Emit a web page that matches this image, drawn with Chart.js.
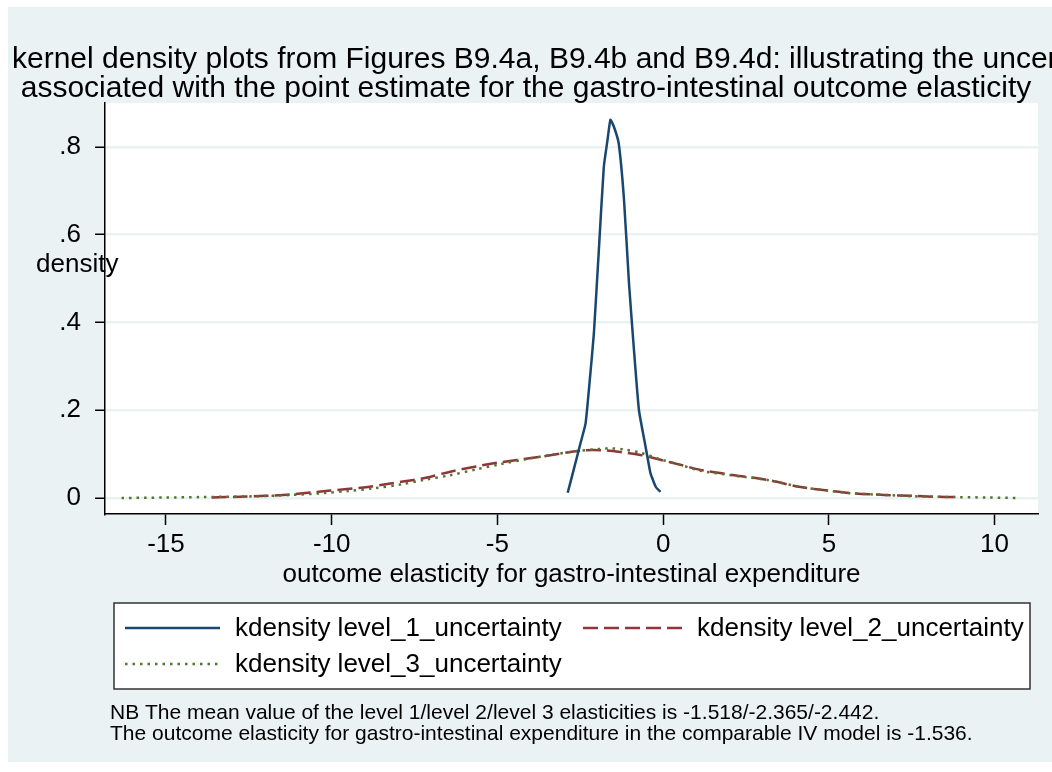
<!DOCTYPE html>
<html>
<head>
<meta charset="utf-8">
<script src="https://cdn.jsdelivr.net/npm/chart.js@4.4.1/dist/chart.umd.min.js"></script>
<style>
  html, body { margin: 0; padding: 0; background: #fff; }
  #wrap { width: 1052px; height: 772px; }
</style>
</head>
<body>
<div id="wrap"><canvas id="kd" width="1052" height="772"></canvas></div>
<script>
// kernel density estimates
const level1X = [-2.88, -2.7, -2.5, -2.34, -2.2, -2.09, -1.94, -1.79, -1.68, -1.59, -1.48, -1.34, -1.18, -1.03, -0.88, -0.73, -0.53, -0.38, -0.22, -0.08];
const level1Y = [0.012, 0.064, 0.123, 0.17, 0.28, 0.375, 0.565, 0.755, 0.815, 0.862, 0.845, 0.808, 0.679, 0.489, 0.337, 0.2, 0.117, 0.056, 0.025, 0.014];

const level2X = [-13.62, -12.76, -12.0, -11.25, -10.04, -9.04, -8.23, -7.23, -6.42, -5.11, -3.70, -2.49, -1.89, -1.3, -0.68, -0.08, 0.5, 1.13, 2.14, 3.15, 4.15, 4.96, 5.66, 6.67, 7.5, 8.17, 8.89];
const level2Y = [0.001, 0.003, 0.005, 0.008, 0.017, 0.024, 0.033, 0.045, 0.060, 0.079, 0.094, 0.108, 0.109, 0.105, 0.098, 0.087, 0.076, 0.064, 0.052, 0.041, 0.025, 0.017, 0.011, 0.007, 0.005, 0.003, 0.002];

const level3X = [-16.34, -15.0, -13.97, -12.26, -11.2, -10.25, -9.5, -8.74, -7.9, -7.23, -6.42, -5.6, -4.91, -4.1, -3.40, -2.6, -1.89, -1.6, -1.2, -0.68, -0.08, 0.5, 1.13, 2.14, 3.15, 4.15, 4.96, 5.66, 6.67, 7.5, 8.17, 8.89, 9.8, 10.74];
const level3Y = [0.000, 0.001, 0.002, 0.004, 0.007, 0.011, 0.016, 0.022, 0.031, 0.041, 0.052, 0.066, 0.077, 0.089, 0.098, 0.107, 0.112, 0.113, 0.111, 0.103, 0.088, 0.076, 0.062, 0.051, 0.041, 0.025, 0.017, 0.011, 0.007, 0.004, 0.003, 0.002, 0.001, 0.000];

const xTicks = [-15, -10, -5, 0, 5, 10];
const yTicks = [0, 0.2, 0.4, 0.6, 0.8];

const seriesLabels = ['kdensity level_1_uncertainty', 'kdensity level_2_uncertainty', 'kdensity level_3_uncertainty'];
const titleLines = [
    'kernel density plots from Figures B9.4a, B9.4b and B9.4d: illustrating the uncertainty',
    'associated with the point estimate for the gastro-intestinal outcome elasticity',
];
const xTitle = 'outcome elasticity for gastro-intestinal expenditure';
const yTitle = 'density';
const noteLines = [
    'NB The mean value of the level 1/level 2/level 3 elasticities is -1.518/-2.365/-2.442.',
    'The outcome elasticity for gastro-intestinal expenditure in the comparable IV model is -1.536.',
];

const FONT = '"Liberation Sans", Arial, sans-serif';
const BG = '#eaf2f3';
const colors = ['#1a476f', '#90353b', '#55752f'];
const dashes = [[], [15, 6], [2.5, 5]];

function points(xs, ys) {
    return xs.map((x, i) => ({ x, y: ys[i] }));
}

// Stata-like frame: background, white plot region, titles, legend box, notes
const stataFrame = {
    id: 'stataFrame',
    beforeDraw(chart) {
        const { ctx, chartArea: a } = chart;
        ctx.save();
        ctx.fillStyle = '#fff';
        ctx.fillRect(0, 0, chart.width, chart.height);
        ctx.fillStyle = BG;
        ctx.fillRect(8, 7, chart.width - 8, 755);
        ctx.fillStyle = '#fff';
        ctx.fillRect(a.left, a.top, a.right - a.left, a.bottom - a.top);
        ctx.restore();
    },
    afterDraw(chart) {
        const { ctx, chartArea: a } = chart;
        ctx.save();
        ctx.fillStyle = '#000';
        ctx.textBaseline = 'alphabetic';

        // title (first line runs off the right edge, as in the original)
        ctx.font = '30px ' + FONT;
        ctx.textAlign = 'left';
        ctx.fillText(titleLines[0], 12, 68);
        ctx.textAlign = 'center';
        ctx.fillText(titleLines[1], 526, 97);

        // axis titles
        ctx.font = '26px ' + FONT;
        ctx.textAlign = 'left';
        ctx.fillText(yTitle, 36, 272);
        ctx.textAlign = 'center';
        ctx.fillText(xTitle, (a.left + a.right) / 2, 582);

        // legend box
        const bx = 114, by = 603, bw = 916, bh = 86;
        ctx.fillStyle = '#fff';
        ctx.fillRect(bx, by, bw, bh);
        ctx.strokeStyle = '#333';
        ctx.lineWidth = 1.5;
        ctx.strokeRect(bx, by, bw, bh);
        const slots = [
            { x0: 125, x1: 220, tx: 235, y: 628 },
            { x0: 583, x1: 686, tx: 697, y: 628 },
            { x0: 125, x1: 220, tx: 235, y: 664 },
        ];
        ctx.font = '26px ' + FONT;
        ctx.textAlign = 'left';
        ctx.textBaseline = 'middle';
        chart.data.datasets.forEach((ds, i) => {
            const s = slots[i];
            ctx.strokeStyle = ds.borderColor;
            ctx.lineWidth = ds.borderWidth;
            ctx.setLineDash(ds.borderDash || []);
            ctx.beginPath();
            ctx.moveTo(s.x0, s.y);
            ctx.lineTo(s.x1, s.y);
            ctx.stroke();
            ctx.setLineDash([]);
            ctx.fillStyle = '#000';
            ctx.fillText(ds.label, s.tx, s.y + 1);
        });

        // notes
        ctx.font = '21px ' + FONT;
        ctx.textBaseline = 'alphabetic';
        ctx.fillText(noteLines[0], 110, 719);
        ctx.fillText(noteLines[1], 110, 740);
        ctx.restore();
    },
};

new Chart(document.getElementById('kd'), {
    type: 'scatter',
    data: {
        datasets: [
            { label: seriesLabels[0], data: points(level1X, level1Y), borderColor: colors[0], borderWidth: 2.5, borderDash: dashes[0], tension: 0.15, order: 0 },
            { label: seriesLabels[1], data: points(level2X, level2Y), borderColor: colors[1], borderWidth: 2.5, borderDash: dashes[1], tension: 0.3, order: 2 },
            { label: seriesLabels[2], data: points(level3X, level3Y), borderColor: colors[2], borderWidth: 2.5, borderDash: dashes[2], tension: 0.3, order: 1 },
        ].map(d => ({ ...d, showLine: true, pointRadius: 0, fill: false })),
    },
    options: {
        responsive: false,
        animation: false,
        layout: { padding: { left: 0, top: 103, right: 14, bottom: 208 } },
        plugins: {
            legend: { display: false },
            tooltip: { enabled: false },
        },
        scales: {
            x: {
                type: 'linear',
                min: -16.84,
                max: 11.31,
                afterBuildTicks: s => { s.ticks = xTicks.map(v => ({ value: v })); },
                afterFit: s => { s.height = 50; },
                grid: { drawOnChartArea: false, tickLength: 11, tickColor: '#000', tickWidth: 1.5 },
                border: { color: '#000', width: 1.5 },
                ticks: { autoSkip: false, maxRotation: 0, padding: 4, color: '#000', font: { family: FONT, size: 26 } },
            },
            y: {
                type: 'linear',
                min: -0.0365,
                max: 0.9003,
                afterBuildTicks: s => { s.ticks = yTicks.map(v => ({ value: v })); },
                afterFit: s => { s.width = 105; },
                grid: { color: BG, lineWidth: 2.5, tickLength: 10, tickColor: '#000', tickWidth: 1.5 },
                border: { color: '#000', width: 1.5 },
                ticks: {
                    padding: 14,
                    color: '#000',
                    font: { family: FONT, size: 26 },
                    callback: v => (v === 0 ? '0' : String(v).replace(/^0/, '')),
                },
            },
        },
    },
    plugins: [stataFrame],
});
</script>
</body>
</html>
